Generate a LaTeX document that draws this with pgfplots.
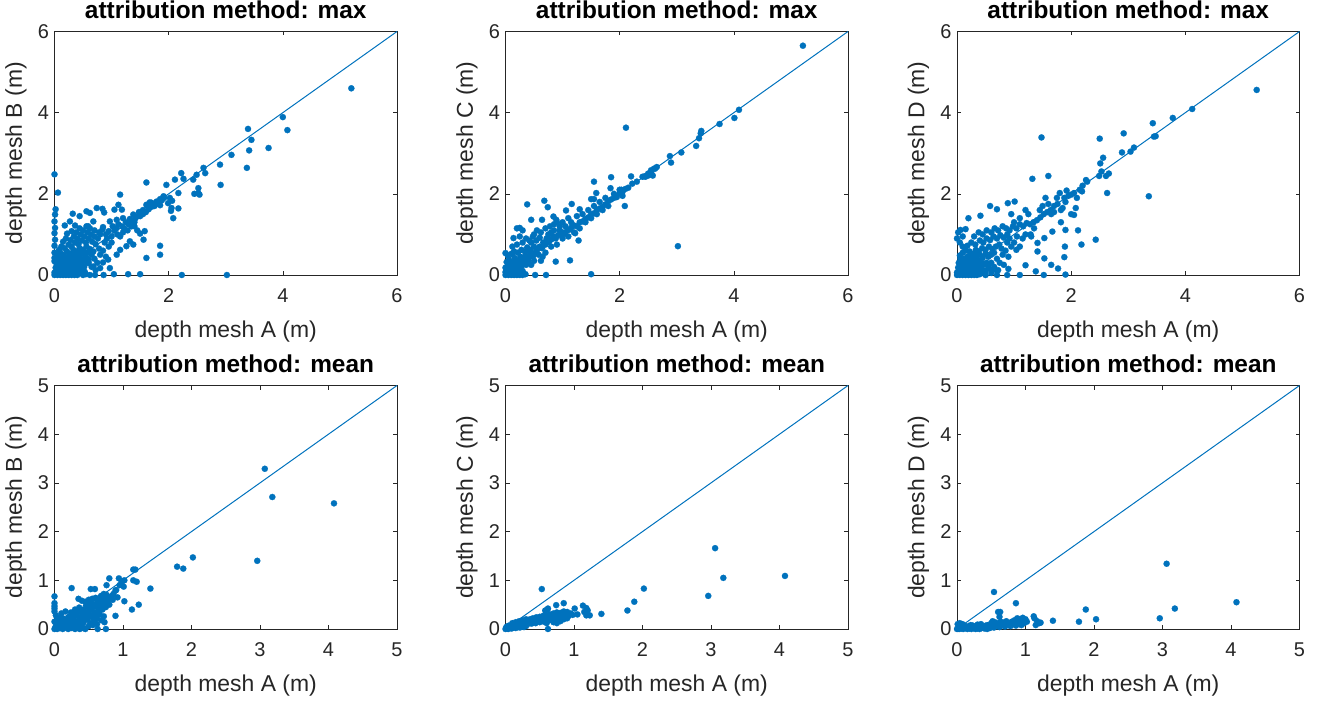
\documentclass[border=0pt]{standalone}
\usepackage{fontspec}
\setmainfont{Liberation Sans}
\usepackage{pgfplots}
\pgfplotsset{compat=1.18}
\definecolor{matblue}{RGB}{0,114,189}
\definecolor{axgray}{RGB}{38,38,38}

\pgfplotsset{
  panel/.style={
    scale only axis, width=342.5bp, height=243.5bp,
    anchor=south west, clip=false,
    axis line style={draw=axgray, line width=0.6bp},
    every tick/.style={draw=axgray, line width=0.6bp},
    major tick length=4bp, tick align=inside,
    /pgf/number format/assume math mode=true,
    ticklabel style={font=\fontsize{20}{20}\selectfont, color=axgray},
    xticklabel style={yshift=-10bp},
    yticklabel style={xshift=-2bp},
    xlabel={depth mesh A (m)},
    label style={font=\fontsize{23}{23}\selectfont, color=axgray},
    xlabel style={at={(axis description cs:0.5,-0.2587)}, anchor=base},
    ylabel style={at={(axis description cs:-0.095,0.5)}, anchor=base},
    title style={font=\bfseries\fontsize{24.5}{24.5}\selectfont, at={(axis description cs:0.5,1.0287)}, anchor=base},
    xmin=0, ymin=0,
  },
  top/.style={panel, xmax=6, ymax=6, xtick={0,2,4,6}, ytick={0,2,4,6}, title={attribution method: max}},
  bot/.style={panel, xmax=5, ymax=5, xtick={0,...,5}, ytick={0,...,5}, title={attribution method: mean}},
  dots/.style={color=matblue, only marks, mark=*, mark size=3.1bp, mark options={solid, draw=matblue, fill=matblue, line width=0.2bp}},
  diag/.style={matblue, line width=1bp, no marks},
}

\begin{document}
\begin{tikzpicture}
\useasboundingbox (0,0) rectangle (1319bp,702bp);

% max, mesh B
\begin{axis}[top, at={(54.5bp,427bp)}, ylabel={depth mesh B (m)}]
\addplot[dots] coordinates {
(0,0) (0.05,0) (0.1,0) (0.15,0) (0.2,0) (0.25,0) (0.3,0) (0.35,0) (0.4,0) (0.5,0) (0.55,0.02) (0.62,0)
(0,0.06) (0.04,0.1) (0.08,0.05) (0.12,0.12) (0.16,0.06) (0.2,0.1) (0.24,0.04) (0.28,0.12) (0.32,0.07) (0.36,0.15) (0.4,0.08) (0.45,0.12)
(0.02,0.18) (0.06,0.22) (0.1,0.16) (0.14,0.25) (0.18,0.2) (0.22,0.28) (0.26,0.2) (0.3,0.26) (0.34,0.3) (0.38,0.24) (0.42,0.32) (0.48,0.26) (0.52,0.2)
(0.03,0.3) (0.08,0.35) (0.12,0.4) (0.16,0.32) (0.2,0.42) (0.25,0.36) (0.3,0.45) (0.35,0.4) (0.4,0.5) (0.45,0.42) (0.5,0.52) (0.55,0.45) (0.6,0.38)
(0.05,0.48) (0.1,0.55) (0.15,0.5) (0.22,0.58) (0.28,0.52) (0.33,0.62) (0.38,0.58) (0.44,0.66) (0.5,0.62) (0.56,0.7) (0.62,0.64) (0.68,0.58)
(0.08,0.62) (0.12,0.7) (0.18,0.66) (0.25,0.75) (0.3,0.7) (0.36,0.8) (0.42,0.76) (0.48,0.85) (0.55,0.8) (0.6,0.9) (0.66,0.82) (0.72,0.76)
(0.15,0.82) (0.2,0.9) (0.28,0.86) (0.34,0.95) (0.4,0.9) (0.46,1.0) (0.52,0.95) (0.58,1.05) (0.64,1.0) (0.7,0.95) (0.76,0.9) (0.8,1.0)
(0.22,1.02) (0.3,1.08) (0.38,1.05) (0.44,1.15) (0.5,1.1) (0.56,1.2) (0.62,1.15) (0.7,1.1) (0.78,1.05) (0.84,1.12) (0.9,1.0) (0.95,1.08)
(0.6,0.3) (0.65,0.2) (0.7,0.4) (0.75,0.3) (0.8,0.5) (0.72,0.12) (0.85,0.6) (0.9,0.45) (0.95,0.7) (0.65,0.5) (0.78,0.65) (0.88,0.8)
(0.92,0.9) (1.0,0.8) (1.0,0.95) (1.05,1.1) (1.1,1.0) (1.02,1.2) (1.08,1.15) (1.12,1.25) (1.18,1.2) (1.25,1.3) (1.22,1.15) (1.3,1.25)
(1.35,1.35) (1.4,1.3) (1.45,1.45) (1.5,1.45) (1.55,1.5) (1.6,1.55) (1.65,1.62) (1.7,1.68) (1.75,1.7) (1.78,1.75) (1.82,1.8) (1.88,1.84)
(1.92,1.9) (1.85,1.72) (1.7,1.78) (1.62,1.7) (1.55,1.6) (1.48,1.55) (1.42,1.4) (1.35,1.2) (1.28,1.1) (1.2,1.05) (1.15,0.95) (1.4,1.2) (1.45,1.1)
(0.74,1.65) (0.84,1.63) (0.87,1.54) (0.32,1.51) (0.44,1.45) (0.56,1.57) (0.62,1.53) (0.68,1.32) (0.27,1.32) (0.18,1.22) (0.36,1.22) (0.59,1.2)
(0.85,1.18) (0.97,1.32) (1.09,1.36) (1.2,1.4) (1.32,1.38) (1.38,1.49) (1.5,1.53) (1.15,1.98) (1.12,1.73) (1.18,1.61) (1.05,1.61) (1.61,2.28)
(1.61,1.73) (1.67,1.79) (1.79,1.81) (1.85,1.87) (1.91,1.94) (1.96,2.22) (2.02,1.9) (2.05,1.65) (2.08,1.4) (1.99,1.77) (2.11,2.35) (2.22,2.51)
(2.26,2.37) (2.43,2.35) (2.49,2.47) (2.52,2.14) (2.52,2.02) (2.61,2.64) (2.64,2.51) (2.9,2.72) (2.91,2.22) (3.1,2.96) (3.37,2.64) (3.41,3.07)
(3.45,3.33) (3.39,3.6) (3.75,3.13) (4.0,3.89) (4.08,3.57) (5.2,4.6) (2.17,2.02) (2.17,1.64) (2.04,1.58) (2.06,1.83) (2.45,2.0) (2.54,1.98)
(1.5,1.02) (1.58,1.08) (1.56,0.87) (1.38,0.75) (1.26,0.71) (1.32,0.83) (1.15,0.62) (1.09,0.5) (0.94,0.38) (0.97,0.17) (0.85,0.31) (0.8,0.17)
(0.68,0.21) (1.61,0.42) (1.85,0.72) (1.85,0.5) (1.29,0.02) (1.5,0.02) (2.23,0) (3.02,0) (1.04,0.02) (0.86,0) (0.71,0)
(0,2.48) (0.06,2.03) (0.02,1.62) (0.01,1.49) (0,1.32) (0.01,1.16) (0,1.03) (0.01,0.87) (0,0.72) (0,0.55) (0,0.34) (0,0.42)
(0.03,0.03) (0.07,0.08) (0.11,0.03) (0.13,0.07) (0.17,0.14) (0.21,0.05) (0.23,0.16) (0.27,0.06) (0.29,0.19) (0.33,0.13) (0.37,0.05)
(0.39,0.18) (0.43,0.22) (0.47,0.06) (0.49,0.16) (0.53,0.08) (0.57,0.3) (0.05,0.26) (0.09,0.28) (0.13,0.33) (0.19,0.27) (0.23,0.35)
(0.27,0.3) (0.31,0.36) (0.37,0.33) (0.43,0.38) (0.47,0.35) (0.53,0.38) (0.58,0.55) (0.06,0.4) (0.18,0.45) (0.26,0.48) (0.34,0.5)
(0.42,0.55) (0.48,0.58)
};
\addplot[diag] coordinates {(0,0) (6,6)};
\end{axis}

% max, mesh C
\begin{axis}[top, at={(505.5bp,427bp)}, ylabel={depth mesh C (m)}]
\addplot[dots] coordinates {
(0,0) (0.05,0) (0.1,0) (0.15,0) (0.2,0) (0.25,0) (0.3,0) (0.35,0.02) (0,0.07) (0.05,0.1) (0.1,0.06) (0.15,0.12) (0.2,0.08) (0.25,0.15) (0.3,0.1)
(0,0.18) (0.04,0.22) (0.08,0.16) (0.12,0.25) (0.18,0.2) (0.22,0.28) (0.28,0.22) (0.32,0.3) (0.36,0.25) (0.4,0.35)
(0.02,0.32) (0.06,0.38) (0.1,0.3) (0.16,0.42) (0.2,0.36) (0.26,0.45) (0.3,0.4) (0.35,0.48) (0.4,0.42) (0.44,0.5) (0.48,0.45) (0.52,0.55)
(0.04,0.48) (0.1,0.52) (0.15,0.58) (0.22,0.55) (0.28,0.62) (0.34,0.58) (0.38,0.68) (0.44,0.62) (0.5,0.7) (0.55,0.62) (0.6,0.7) (0.64,0.66)
(0.12,0.7) (0.2,0.75) (0.3,0.8) (0.36,0.9) (0.42,0.85) (0.48,0.95) (0.54,0.85) (0.6,0.92) (0.66,0.8) (0.7,0.75) (0.72,0.9) (0.76,0.82)
(0.8,0.88) (0.84,0.95) (0.88,0.9) (0.92,0.98) (0.96,1.0) (1.0,1.05) (1.04,1.02) (1.08,1.1) (1.12,1.12) (1.16,1.18) (1.2,1.22) (1.25,1.2)
(1.3,1.3) (1.35,1.32) (1.4,1.38) (1.45,1.42) (1.5,1.5) (1.55,1.52) (1.6,1.6) (1.65,1.64) (1.7,1.68) (1.75,1.74) (1.8,1.82) (1.85,1.86)
(1.9,1.9) (1.95,1.92) (2.0,2.02) (2.05,2.05) (2.1,2.12) (2.15,2.15) (2.22,2.25) (2.3,2.3) (2.4,2.42) (2.45,2.44) (2.5,2.5) (2.55,2.58)
(2.6,2.62) (2.65,2.66) (0.5,1.0) (0.55,1.1) (0.62,1.05) (0.7,1.15) (0.78,1.2) (0.85,1.25) (0.9,1.3) (0.95,1.2) (1.0,1.3) (1.1,1.4)
(0.45,0.8) (0.25,0.95) (0.3,1.1) (0.8,1.05) (0.58,0.5) (0.65,0.45) (0.7,0.55) (0.62,0.35) (0.5,0.35) (0.45,0.25) (0.8,0.7) (0.9,0.75)
(1.0,0.9) (1.1,0.95) (1.2,1.05) (1.3,1.15) (1.4,1.3) (1.5,1.4) (1.6,1.5) (1.7,1.6) (1.8,1.7) (1.25,1.45) (1.35,1.5) (1.45,1.6)
(1.55,1.7) (1.65,1.8) (1.75,1.9) (1.9,2.0) (2.0,2.1) (2.05,1.95) (0.75,1.0) (0.85,1.1) (0.95,1.1) (1.05,1.2) (1.15,1.3) (0.4,0.6)
(5.21,5.65) (4.09,4.07) (4.01,3.87) (3.75,3.72) (3.43,3.55) (3.42,3.49) (3.39,3.37) (3.34,3.18) (3.08,3.02) (2.88,2.93) (2.9,2.77)
(2.11,3.63) (3.02,0.71) (2.62,2.62) (2.55,2.52) (2.58,2.45) (2.5,2.45) (2.45,2.42) (2.2,2.43) (1.85,2.41) (1.55,2.3) (1.59,2.02)
(1.84,2.14) (2.09,1.7) (2.03,2.1) (1.93,1.93) (1.5,1.87) (1.55,1.87) (1.16,1.75) (1.06,1.59) (1.3,1.62) (0.68,1.83) (0.74,1.67)
(0.38,1.74) (0.45,1.36) (0.64,1.36) (0.84,1.44) (0.89,1.36) (0.2,1.15) (0.25,1.16) (0.14,0.91) (0.13,0.54) (0,0.54) (1.13,0.36)
(1.28,0.85) (1.22,1.03) (0.88,0.33) (1.5,0.02) (0.71,0) (0.52,0)
(0.03,0.03) (0.07,0.05) (0.12,0.02) (0.17,0.05) (0.22,0.04) (0.27,0.06) (0.02,0.12) (0.07,0.14) (0.13,0.18) (0.24,0.22) (0.08,0.26)
(0.14,0.32) (0.26,0.34) (0.32,0.36)
};
\addplot[diag] coordinates {(0,0) (6,6)};
\end{axis}

% max, mesh D
\begin{axis}[top, at={(957bp,427bp)}, ylabel={depth mesh D (m)}]
\addplot[dots] coordinates {
(0,0) (0.05,0) (0.1,0) (0.15,0) (0.2,0) (0.25,0) (0.3,0) (0.35,0) (0.4,0.02) (0.5,0) (0.6,0.05) (0.7,0)
(0,0.06) (0.04,0.1) (0.08,0.05) (0.12,0.12) (0.16,0.06) (0.2,0.1) (0.24,0.04) (0.28,0.12) (0.32,0.07) (0.36,0.15) (0.4,0.08) (0.45,0.12)
(0.5,0.1) (0.55,0.18) (0.6,0.12) (0.02,0.18) (0.06,0.22) (0.1,0.16) (0.14,0.25) (0.18,0.2) (0.22,0.28) (0.26,0.2) (0.3,0.26) (0.34,0.3)
(0.38,0.24) (0.42,0.32) (0.48,0.26) (0.52,0.3) (0.03,0.3) (0.08,0.35) (0.12,0.4) (0.16,0.32) (0.2,0.42) (0.25,0.36) (0.3,0.45) (0.35,0.4)
(0.4,0.5) (0.45,0.42) (0.5,0.52) (0.55,0.45) (0.6,0.5) (0.65,0.55) (0.05,0.48) (0.1,0.55) (0.15,0.6) (0.22,0.58) (0.28,0.52) (0.33,0.62)
(0.38,0.58) (0.44,0.66) (0.5,0.62) (0.56,0.7) (0.62,0.64) (0.68,0.7) (0.74,0.75) (0.1,0.7) (0.18,0.72) (0.25,0.8) (0.32,0.75) (0.4,0.85)
(0.46,0.8) (0.52,0.9) (0.58,0.86) (0.64,0.95) (0.7,0.9) (0.76,0.98) (0.82,0.92) (0.88,1.0) (0.3,0.95) (0.38,1.05) (0.45,1.0) (0.52,1.1)
(0.6,1.05) (0.66,1.15) (0.72,1.1) (0.8,1.2) (0.86,1.15) (0.92,1.1) (0.98,1.2) (1.04,1.15) (1.1,1.25) (1.16,1.2) (1.22,1.28) (1.28,1.25)
(1.34,1.3) (1.4,1.35) (1.46,1.42) (1.52,1.5) (1.58,1.55) (1.64,1.6) (1.7,1.7) (1.76,1.75) (1.82,1.6) (1.88,1.9) (1.95,1.95) (2.0,1.98)
(2.05,2.02) (1.5,1.7) (1.55,1.9) (1.6,1.75) (1.45,1.6) (1.2,1.6) (1.25,1.5) (1.1,1.4) (1.0,1.3) (0.95,1.5) (0.6,0.3) (0.65,0.2)
(0.7,0.4) (0.75,0.3) (0.8,0.5) (0.72,0.12) (0.85,0.6) (0.9,0.45) (0.95,0.7) (0.78,0.65) (0.88,0.8) (0.92,0.9) (1.0,0.8) (1.05,0.95)
(1.1,0.7) (1.15,0.9) (1.2,1.0) (1.3,0.95) (1.35,1.15) (0.82,0.25) (0.9,0.15) (0.7,0.1) (0.55,0.25) (0.05,0.8) (0.1,0.95) (0,0.9)
(0.02,1.05) (0.06,1.11) (0.15,1.13) (0.2,1.4) (0.41,1.46) (0.58,1.7) (0.7,1.62) (0.89,1.77) (1.01,1.81) (1.29,1.0) (1.41,0.79)
(1.41,0.58) (1.53,0.91) (1.67,1.07) (1.82,1.3) (1.9,1.11) (1.89,0.7) (1.88,0.44) (1.9,0.01) (1.77,0.16) (1.65,0.25) (1.53,0.41)
(1.52,0) (1.38,0.09) (1.1,0) (1.2,0.24) (1.04,0.62) (0.88,0) (1.32,2.37) (1.6,2.44) (1.48,3.39) (1.8,2.02) (1.92,2.08) (2.05,1.48)
(2.08,1.65) (2.12,1.1) (2.18,0.75) (2.19,2.06) (2.43,0.87) (2.26,2.34) (2.28,2.3) (2.49,2.44) (2.53,2.55) (2.51,2.75) (2.56,2.89)
(2.5,3.36) (2.61,2.44) (2.66,2.5) (2.63,2.02) (2.89,3.02) (2.92,3.49) (3.04,3.04) (3.1,3.14) (3.36,1.94) (3.43,3.74) (3.45,3.41)
(3.48,3.42) (3.78,3.87) (4.12,4.09) (5.25,4.56) (1.7,1.55) (1.75,1.9) (1.85,1.65) (1.65,1.5) (1.9,1.8) (2.1,1.9) (2.15,2.1) (2.2,2.2) (2.0,1.5)
(0.03,0.03) (0.07,0.08) (0.11,0.03) (0.13,0.07) (0.17,0.14) (0.21,0.05) (0.23,0.16) (0.27,0.06) (0.29,0.19) (0.33,0.13) (0.37,0.05)
(0.39,0.18) (0.43,0.22) (0.47,0.06) (0.05,0.26) (0.09,0.28) (0.13,0.33) (0.19,0.27) (0.23,0.35) (0.27,0.3) (0.31,0.36) (0.37,0.33)
(0.06,0.4) (0.18,0.45) (0.26,0.48) (0.34,0.5)
};
\addplot[diag] coordinates {(0,0) (6,6)};
\end{axis}

% mean, mesh B
\begin{axis}[bot, at={(54.5bp,73bp)}, ylabel={depth mesh B (m)}]
\addplot[dots] coordinates {
(0,0) (0.04,0) (0.08,0.02) (0.12,0) (0.16,0.03) (0.2,0) (0.25,0.02) (0.3,0) (0.02,0.06) (0.06,0.1) (0.1,0.05) (0.14,0.12) (0.18,0.08)
(0.22,0.14) (0.26,0.08) (0.3,0.16) (0.34,0.1) (0.38,0.05) (0.42,0.12) (0,0.15) (0.04,0.2) (0.08,0.16) (0.12,0.22) (0.18,0.2) (0.22,0.26)
(0.28,0.22) (0.32,0.3) (0.36,0.24) (0.4,0.32) (0.44,0.26) (0.48,0.34) (0.52,0.28) (0.56,0.22) (0.6,0.3) (0.02,0.28) (0.1,0.32) (0.16,0.36)
(0.24,0.34) (0.3,0.4) (0.36,0.44) (0.42,0.4) (0.46,0.48) (0.5,0.44) (0.54,0.52) (0.58,0.46) (0.62,0.55) (0.66,0.5) (0.7,0.58) (0.74,0.52)
(0.78,0.62) (0.82,0.66) (0.86,0.72) (0.9,0.8) (0.95,0.9) (0.98,0.96) (1.02,1.0) (0.45,0.56) (0.4,0.58) (0.5,0.6) (0.55,0.62) (0.6,0.64)
(0.48,0.2) (0.52,0.12) (0.58,0.16) (0.62,0.22) (0.66,0.3) (0.7,0.4) (0.62,0.1) (0.68,0.18) (0.72,0.26) (0.44,0.18) (0,0.36) (0,0.42)
(0,0.47) (0,0.53) (0,0.67) (0.25,0.84) (0.53,0.82) (0.59,0.82) (0.35,0.62) (0.66,0.57) (0.7,0.62) (0.8,1.04) (0.76,0.9) (0.89,0.79)
(0.94,1.04) (1.01,0.87) (1.02,0.57) (0.89,0.27) (0.73,0.14) (0.75,0) (0.63,0) (0.45,0) (0.37,0) (1.15,1.22) (1.18,1.22) (1.15,1.0)
(1.2,0.97) (1.23,0.5) (1.13,0.4) (1.4,0.83) (1.79,1.28) (1.88,1.24) (2.02,1.47) (2.96,1.4) (3.07,3.29) (3.18,2.71) (4.08,2.58)
(0.85,0.6) (0.8,0.5) (0.92,0.65) (0.75,0.45) (0.68,0.68) (0.72,0.72) (0.76,0.7)
(0.01,0.02) (0.05,0.04) (0.09,0.09) (0.13,0.04) (0.17,0.13) (0.21,0.1) (0.24,0.18) (0.28,0.12) (0.32,0.05) (0.36,0.16) (0.4,0.2)
(0.45,0.3) (0.5,0.36) (0.54,0.4) (0.58,0.34) (0.64,0.4) (0.68,0.45) (0.55,0.5) (0.48,0.52) (0.38,0.36) (0.33,0.38) (0.26,0.28)
(0.2,0.24) (0.14,0.18) (0.06,0.14) (0.1,0.2) (0.03,0.11) (0.42,0.02) (0.5,0.06) (0.56,0.08) (0.35,0.02) (0.08,0.24) (0.6,0.5)
(0.64,0.6) (0.7,0.5) (0.74,0.6) (0.78,0.55) (0.84,0.68)
};
\addplot[diag] coordinates {(0,0) (5,5)};
\end{axis}

% mean, mesh C
\begin{axis}[bot, at={(505.5bp,73bp)}, ylabel={depth mesh C (m)}]
\addplot[dots] coordinates {
(0,0) (0.03,0.01) (0.06,0.02) (0.09,0.01) (0.12,0.03) (0.15,0.02) (0.18,0.04) (0.21,0.03) (0.24,0.05) (0.27,0.04) (0.3,0.06)
(0.02,0.05) (0.05,0.07) (0.08,0.06) (0.11,0.09) (0.14,0.07) (0.17,0.1) (0.2,0.08) (0.23,0.12) (0.26,0.1) (0.29,0.13) (0.32,0.1)
(0.35,0.14) (0.38,0.11) (0.41,0.15) (0.44,0.12) (0.47,0.17) (0.5,0.14) (0.53,0.18) (0.56,0.15) (0.59,0.2) (0.62,0.17) (0.65,0.22)
(0.68,0.18) (0.71,0.24) (0.74,0.2) (0.77,0.26) (0.8,0.22) (0.83,0.28) (0.86,0.24) (0.89,0.3) (0.92,0.27) (0.95,0.32) (0.98,0.29)
(0.36,0.2) (0.4,0.22) (0.45,0.24) (0.5,0.25) (0.55,0.27) (0.6,0.28) (0.65,0.3) (0.7,0.32) (0.75,0.34) (0.8,0.33) (0.85,0.36) (0.9,0.35)
(0.6,0.12) (0.7,0.14) (0.75,0.12) (0.8,0.16) (0.85,0.2) (0.9,0.22) (0.1,0.12) (0.15,0.14) (0.2,0.16) (0.25,0.18) (0.3,0.2)
(0.58,0.38) (0.62,0.42) (0.74,0.49) (0.85,0.53) (0.61,0.4) (0.53,0.82) (1.01,0.42) (1.13,0.48) (1.18,0.43) (1.18,0.28) (1.23,0.28)
(1.15,0.35) (1.2,0.38) (1.05,0.3) (1.4,0.31) (1.78,0.38) (1.88,0.56) (2.02,0.83) (2.96,0.68) (3.06,1.66) (3.18,1.05) (4.08,1.09)
(0.62,0) (0.01,0.03) (0.04,0)
};
\addplot[diag] coordinates {(0,0) (5,5)};
\end{axis}

% mean, mesh D
\begin{axis}[bot, at={(957bp,73bp)}, ylabel={depth mesh D (m)}]
\addplot[dots] coordinates {
(0,0) (0.03,0) (0.06,0.01) (0.09,0) (0.12,0.02) (0.15,0) (0.18,0.01) (0.21,0) (0.24,0.02) (0.27,0) (0.3,0.01) (0.33,0) (0.36,0.02)
(0.4,0.01) (0.44,0) (0.48,0.02) (0.02,0.04) (0.05,0.06) (0.08,0.03) (0.11,0.07) (0.14,0.04) (0.17,0.06) (0.2,0.03) (0.23,0.07)
(0.26,0.04) (0.29,0.06) (0.32,0.03) (0.35,0.06) (0.38,0.04) (0.42,0.07) (0.46,0.04) (0.5,0.06) (0.54,0.03) (0.58,0.07) (0.62,0.04)
(0.66,0.08) (0.7,0.05) (0.74,0.09) (0.78,0.06) (0.82,0.1) (0.86,0.07) (0.9,0.11) (0.94,0.08) (0.98,0.12) (0.01,0.1) (0.04,0.12)
(0.08,0.1) (0.5,0.12) (0.52,0.16) (0.55,0.14) (0.6,0.12) (0.64,0.15) (0.68,0.13) (0.72,0.16) (0.76,0.12) (0.8,0.15) (0.84,0.18)
(0.88,0.22) (0.92,0.2) (0.96,0.23) (1.0,0.2) (0.9,0.16) (0.98,0.17) (1.02,0.15) (0.6,0.35) (0.63,0.35) (0.62,0.25) (0.86,0.53)
(0.54,0.76) (1.12,0.26) (1.13,0.22) (1.17,0.16) (1.2,0.12) (1.15,0.08) (1.22,0.13) (1.4,0.17) (1.78,0.15) (1.88,0.4) (2.03,0.2)
(2.96,0.22) (3.06,1.34) (3.18,0.42) (4.08,0.55) (0.45,0.08) (0.3,0.09) (0.2,0.08) (0.35,0.1)
};
\addplot[diag] coordinates {(0,0) (5,5)};
\end{axis}
\end{tikzpicture}
\end{document}
